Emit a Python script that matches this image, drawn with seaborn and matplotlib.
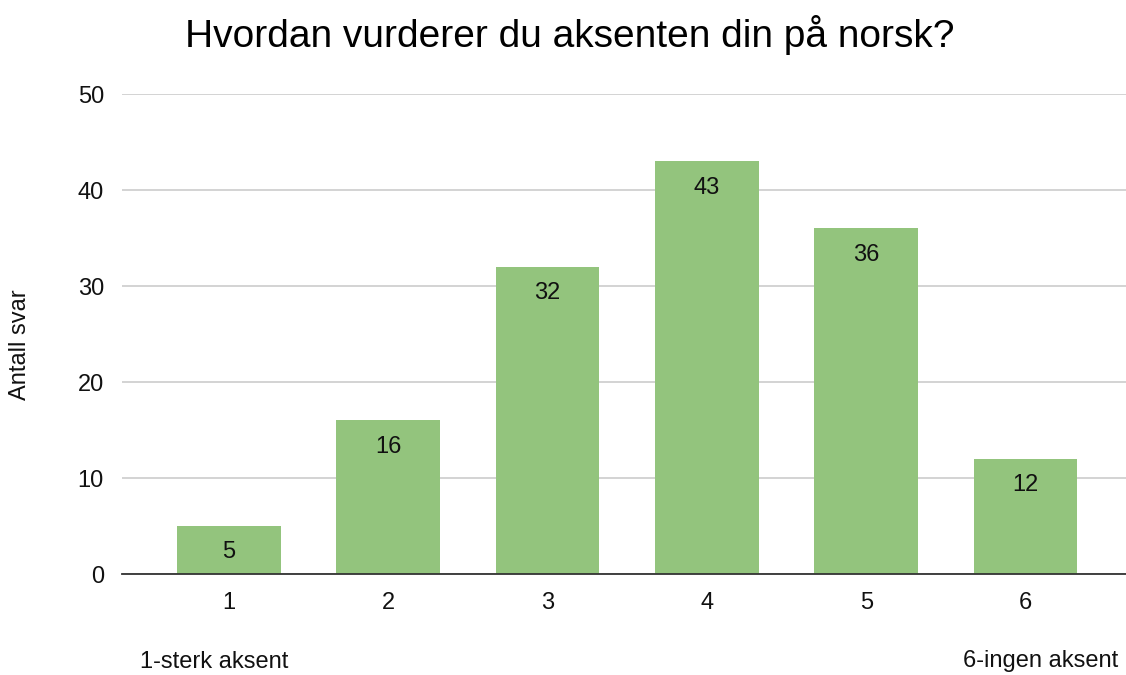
import matplotlib
matplotlib.use("Agg")
import matplotlib.pyplot as plt
import seaborn as sns
import pandas as pd

# data
categories = ["1", "2", "3", "4", "5", "6"]
counts = [5, 16, 32, 43, 36, 12]
title = "Hvordan vurderer du aksenten din på norsk?"
y_label = "Antall svar"
low_label = "1-sterk aksent"
high_label = "6-ingen aksent"

sns.set_style("white")
plt.rcParams["font.family"] = ["Liberation Sans", "DejaVu Sans"]

df = pd.DataFrame({"score": categories, "antall": counts})

fig = plt.figure(figsize=(11.26, 6.75), dpi=100)
ax = fig.add_axes([0.1083, 0.1496, 0.8917, 0.7111])

sns.barplot(data=df, x="score", y="antall", color="#93c47d", saturation=1,
            width=0.65, linewidth=0, ax=ax, zorder=3)

for i, v in enumerate(counts):
    ax.annotate(str(v), (i, v), xytext=(0, -19), textcoords="offset points",
                ha="center", va="center", fontsize=17, color="#111111", zorder=4)

ax.set_ylim(0, 50)
ax.set_xlim(-0.67, 5.63)
ax.set_yticks([0, 10, 20, 30, 40, 50])
ax.yaxis.grid(True, color="#cccccc", linewidth=1.2, zorder=0)
ax.set_axisbelow(True)
for side in ["top", "right", "left"]:
    ax.spines[side].set_visible(False)
ax.spines["bottom"].set_color("#333333")
ax.spines["bottom"].set_linewidth(1.3)
ax.spines["bottom"].set_zorder(5)
ax.tick_params(axis="both", length=0, labelsize=17, colors="#111111")
ax.tick_params(axis="x", pad=13)
ax.tick_params(axis="y", pad=13)
ax.set_xlabel("")
ax.set_ylabel("")

fig.text(0.018, 0.49, y_label, ha="center", va="center", rotation=90,
         fontsize=17, color="#111111")
fig.text(0.506, 0.948, title, ha="center", va="center", fontsize=28, color="#000000")
fig.text(0.124, 0.02, low_label, ha="left", va="center", fontsize=17, color="#111111")
fig.text(0.993, 0.02, high_label, ha="right", va="center", fontsize=17, color="#111111")

fig.savefig("out.png", dpi=100)
